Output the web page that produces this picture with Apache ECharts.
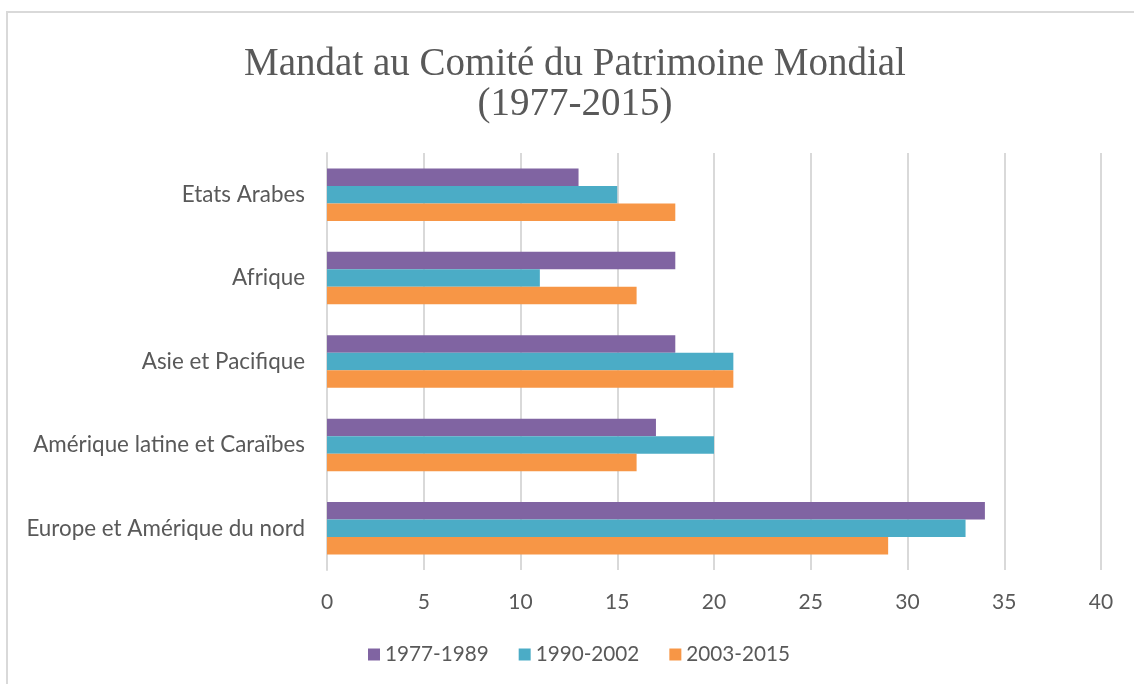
<!DOCTYPE html>
<html>
<head>
<meta charset="utf-8">
<script src="https://cdn.jsdelivr.net/npm/echarts@6/dist/echarts.min.js"></script>
<style>
  html, body { margin: 0; padding: 0; background: #fff; }
  #chart { width: 1134px; height: 684px; }
</style>
</head>
<body>
<div id="chart"></div>
<script>
// régions (de haut en bas)
const regions = ['Etats Arabes', 'Afrique', 'Asie et Pacifique', 'Amérique latine et Caraïbes', 'Europe et Amérique du nord']
// nombre de mandats par période
const p1977 = [13, 18, 18, 17, 34]
const p1990 = [15, 11, 21, 20, 33]
const p2003 = [18, 16, 21, 16, 29]
const periodNames = ['1977-1989', '1990-2002', '2003-2015']
const colors = ['#8064A2', '#4BACC6', '#F79646']

const textColor = '#595959'
const gridColor = '#d9d9d9'
const labelFont = 'Lato'

const chart = echarts.init(document.getElementById('chart'))

function bar(name, data, i) {
  return {
    name: name,
    type: 'bar',
    data: data,
    barGap: '0%',
    barCategoryGap: '37%',
    itemStyle: { color: colors[i] }
  }
}

chart.setOption({
  animation: false,
  title: {
    text: 'Mandat au Comité du Patrimoine Mondial\n(1977-2015)',
    left: 570,
    textAlign: 'center',
    top: 40,
    textStyle: {
      fontFamily: 'Liberation Serif',
      fontWeight: 'normal',
      fontSize: 39,
      lineHeight: 40,
      color: textColor
    }
  },
  graphic: [{
    type: 'rect',
    shape: { x: 7, y: 12, width: 1300, height: 900 },
    style: { fill: 'none', stroke: gridColor, lineWidth: 2 }
  }],
  legend: {
    data: periodNames,
    bottom: 14,
    left: 363,
    itemWidth: 12,
    itemHeight: 12,
    itemGap: 30,
    icon: 'rect',
    textStyle: { fontFamily: labelFont, fontSize: 20.7, color: textColor }
  },
  grid: { left: 327, right: 33, top: 153, bottom: 114 },
  xAxis: {
    type: 'value',
    min: 0,
    max: 40,
    interval: 5,
    axisLine: { show: false },
    axisTick: { show: false },
    splitLine: { lineStyle: { color: gridColor, width: 2 } },
    axisLabel: { fontFamily: labelFont, fontSize: 21, color: textColor, margin: 22 }
  },
  yAxis: {
    type: 'category',
    data: regions,
    inverse: true,
    axisLine: { lineStyle: { color: gridColor, width: 2 } },
    axisTick: { show: false },
    axisLabel: { fontFamily: labelFont, fontSize: 22.4, color: textColor, margin: 22 }
  },
  series: [
    bar(periodNames[0], p1977, 0),
    bar(periodNames[1], p1990, 1),
    bar(periodNames[2], p2003, 2)
  ]
})
</script>
</body>
</html>
